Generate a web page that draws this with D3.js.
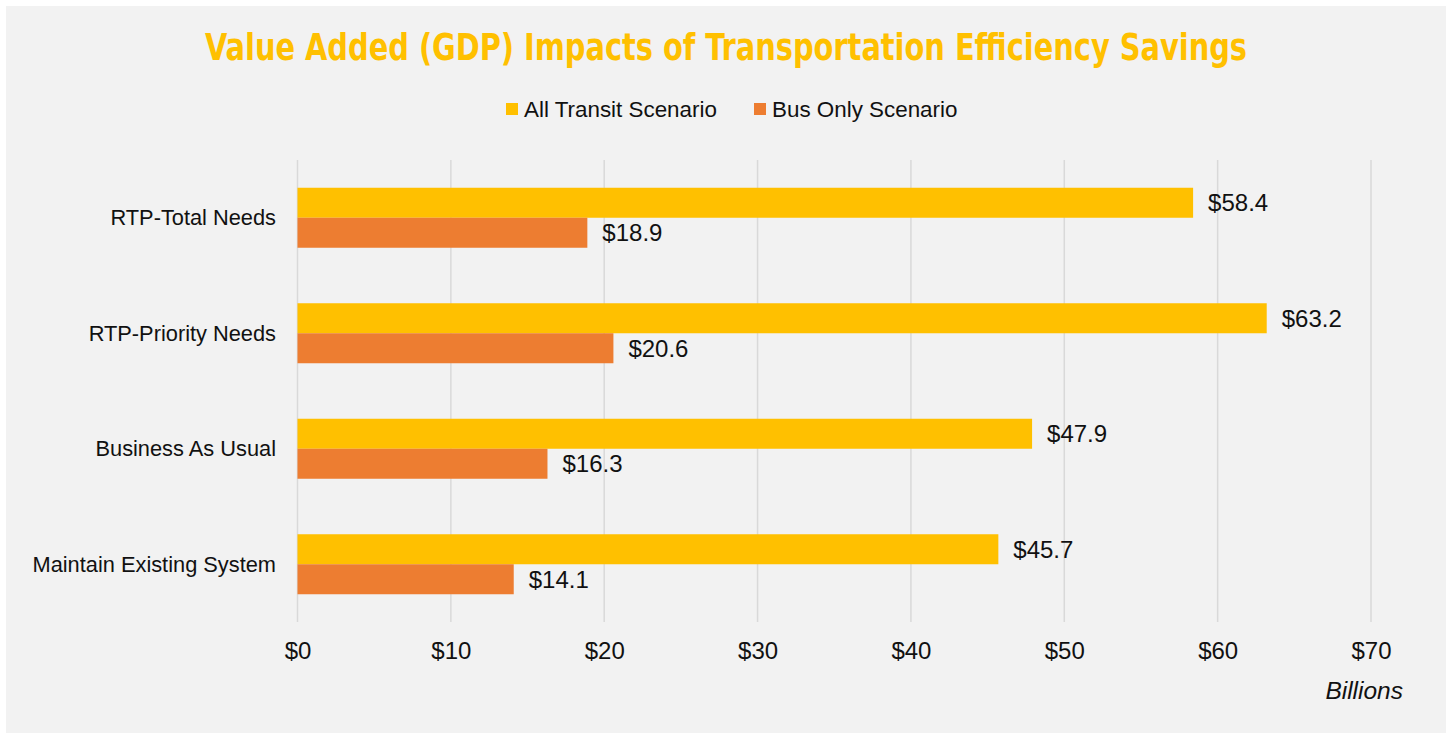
<!DOCTYPE html>
<html>
<head>
<meta charset="utf-8">
<script src="https://cdn.jsdelivr.net/npm/d3@7"></script>
<style>
  html, body { margin: 0; padding: 0; background: #fff; }
  svg { display: block; }
</style>
</head>
<body>
<svg id="chart" width="1449" height="734"></svg>
<script>
const categories = ['RTP-Total Needs', 'RTP-Priority Needs', 'Business As Usual', 'Maintain Existing System'];
const seriesNames = ['All Transit Scenario', 'Bus Only Scenario'];
const allTransit = [58.4, 63.2, 47.9, 45.7];
const busOnly = [18.9, 20.6, 16.3, 14.1];
const xTicks = [0, 10, 20, 30, 40, 50, 60, 70];
const colors = ['#FFC000', '#ED7D31'];

const svg = d3.select('#chart');
const font = '"Liberation Sans", Arial, sans-serif';

// panel background
svg.append('rect')
  .attr('x', 6).attr('y', 6)
  .attr('width', 1440).attr('height', 727)
  .attr('fill', '#f2f2f2');

const x = d3.scaleLinear().domain([0, 70]).range([297.5, 1371]);
const y0 = d3.scaleBand().domain(categories).range([160, 622]);
const y1 = d3.scaleBand().domain(seriesNames).range([0, y0.bandwidth()]).paddingOuter(0.925);

// grid
svg.append('g')
  .selectAll('line')
  .data(xTicks)
  .join('line')
  .attr('x1', d => x(d)).attr('x2', d => x(d))
  .attr('y1', 160).attr('y2', 622)
  .attr('stroke', '#d9d9d9')
  .attr('stroke-width', 1.5);

// title
svg.append('text')
  .attr('x', 726).attr('y', 60)
  .attr('text-anchor', 'middle')
  .attr('font-family', '"Liberation Sans Narrow", "DejaVu Sans Condensed", sans-serif')
  .attr('font-weight', 'bold')
  .attr('font-size', 38)
  .attr('textLength', 1042)
  .attr('lengthAdjust', 'spacingAndGlyphs')
  .attr('fill', '#FFC000')
  .text('Value Added (GDP) Impacts of Transportation Efficiency Savings');

// legend
const legendX = [506, 754];
const legend = svg.append('g').selectAll('g')
  .data(seriesNames)
  .join('g')
  .attr('transform', (d, i) => `translate(${legendX[i]},103)`);
legend.append('rect')
  .attr('width', 12).attr('height', 12)
  .attr('fill', (d, i) => colors[i]);
legend.append('text')
  .attr('x', 18).attr('y', 6)
  .attr('dy', '0.35em')
  .attr('font-family', font)
  .attr('font-size', 22.4)
  .attr('fill', '#111')
  .text(d => d);

// bars
const rows = categories.map((c, i) => ({
  cat: c,
  vals: [
    { s: seriesNames[0], v: allTransit[i], c: colors[0] },
    { s: seriesNames[1], v: busOnly[i], c: colors[1] }
  ]
}));

const groups = svg.append('g').selectAll('g')
  .data(rows)
  .join('g')
  .attr('transform', d => `translate(0,${y0(d.cat)})`);

groups.selectAll('rect')
  .data(d => d.vals)
  .join('rect')
  .attr('x', x(0))
  .attr('y', d => y1(d.s))
  .attr('width', d => x(d.v) - x(0))
  .attr('height', y1.bandwidth())
  .attr('fill', d => d.c);

groups.selectAll('text.val')
  .data(d => d.vals)
  .join('text')
  .attr('class', 'val')
  .attr('x', d => x(d.v) + 15)
  .attr('y', d => y1(d.s) + y1.bandwidth() / 2)
  .attr('dy', '0.35em')
  .attr('font-family', font)
  .attr('font-size', 24)
  .attr('fill', '#111')
  .text(d => '$' + d.v.toFixed(1));

// category labels
svg.append('g').selectAll('text')
  .data(categories)
  .join('text')
  .attr('x', 276)
  .attr('y', d => y0(d) + y0.bandwidth() / 2)
  .attr('dy', '0.35em')
  .attr('text-anchor', 'end')
  .attr('font-family', font)
  .attr('font-size', 21.8)
  .attr('fill', '#111')
  .text(d => d);

// x axis tick labels
const xAxis = d3.axisBottom(x)
  .tickValues(xTicks)
  .tickSize(0)
  .tickPadding(0)
  .tickFormat(d => '$' + d);

const gX = svg.append('g')
  .attr('transform', 'translate(0,651)')
  .call(xAxis);
gX.select('.domain').remove();
gX.selectAll('text')
  .attr('y', 0)
  .attr('dy', '0.35em')
  .attr('font-family', font)
  .attr('font-size', 24)
  .attr('fill', '#111');

// unit label
svg.append('text')
  .attr('x', 1403).attr('y', 690)
  .attr('dy', '0.35em')
  .attr('text-anchor', 'end')
  .attr('font-family', font)
  .attr('font-style', 'italic')
  .attr('font-size', 24.5)
  .attr('fill', '#111')
  .text('Billions');
</script>
</body>
</html>
